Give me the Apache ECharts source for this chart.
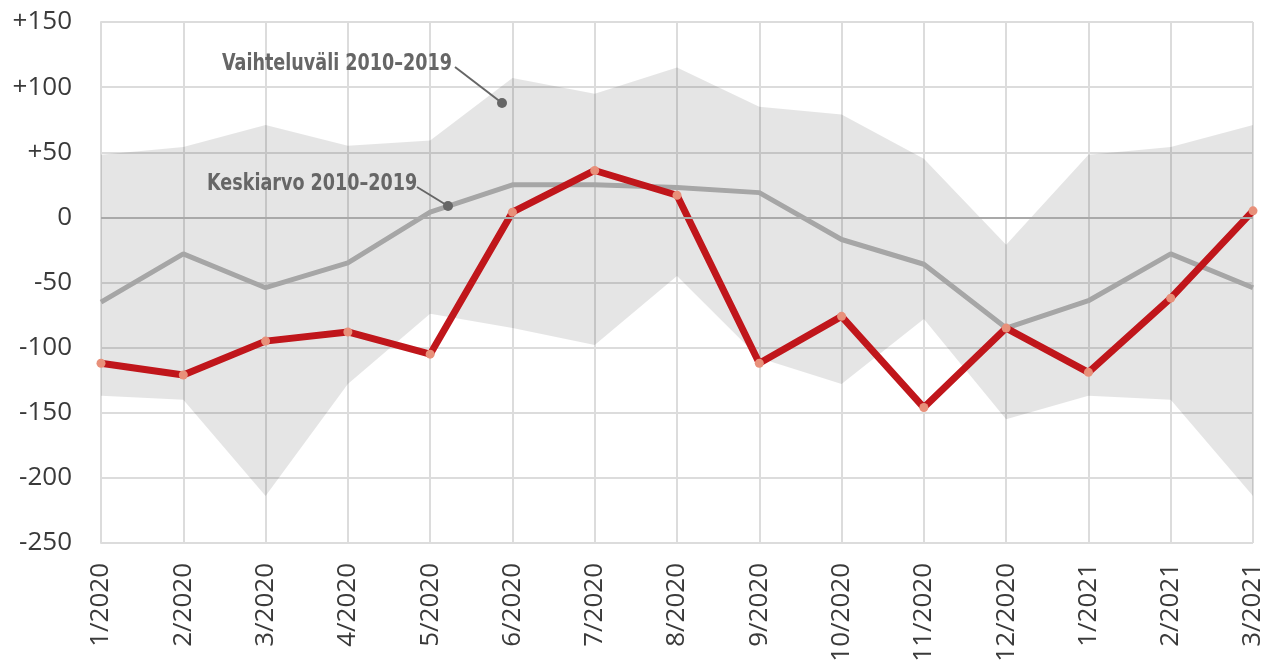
<!DOCTYPE html>
<html><head><meta charset="utf-8">
<script src="https://cdn.jsdelivr.net/npm/echarts@6/dist/echarts.min.js"></script>
<style>html,body{margin:0;padding:0;background:#fff}#c{width:1274px;height:665px}</style>
</head><body><div id="c"></div>
<script>
const categories = ['1/2020','2/2020','3/2020','4/2020','5/2020','6/2020','7/2020','8/2020','9/2020','10/2020','11/2020','12/2020','1/2021','2/2021','3/2021'];
const actual = [-112,-121,-95,-88,-105,4,36,17,-112,-76,-146,-85,-119,-62,5];
const mean2010_2019 = [-65,-28,-54,-35,4,25,25,23,19,-17,-36,-85,-64,-28,-54];
const rangeUpper = [48,54,71,55,59,107,95,115,85,79,45,-21,48,54,71];
const rangeLower = [-137,-140,-214,-128,-74,-85,-98,-45,-108,-128,-78,-155,-137,-140,-214];
const yTicks = {min:-250, max:150, interval:50};
const labelRange = 'Vaihteluväli 2010–2019';
const labelMean = 'Keskiarvo 2010–2019';

const bandDiff = rangeUpper.map((u,i)=>u-rangeLower[i]);
const chart = echarts.init(document.getElementById('c'));
const annFont = 'bold 23px "DejaVu Sans Condensed", "Liberation Sans Narrow", sans-serif';
chart.setOption({
  animation:false,
  grid:{left:101,right:21,top:22,bottom:122},
  xAxis:{type:'category',data:categories,boundaryGap:false,
    axisLine:{lineStyle:{color:'#dcdcdc',width:2}},
    axisTick:{show:false},
    splitLine:{show:true,lineStyle:{color:'#dcdcdc',width:2}},
    axisLabel:{rotate:90,interval:0,margin:20,fontSize:26,color:'#3a3a3a',fontFamily:'"Open Sans", sans-serif'}},
  yAxis:{type:'value',min:yTicks.min,max:yTicks.max,interval:yTicks.interval,
    axisLine:{show:true,lineStyle:{color:'#dcdcdc',width:2}},
    axisTick:{show:false},
    splitLine:{lineStyle:{color:'#dcdcdc',width:2}},
    axisLabel:{margin:29,fontSize:26,color:'#3a3a3a',fontFamily:'"Open Sans", sans-serif',
      formatter:v=>v>0?'+'+v:String(v)}},
  series:[
    {type:'line',data:rangeLower,stack:'band',stackStrategy:'all',symbol:'none',lineStyle:{opacity:0},silent:true},
    {type:'line',data:bandDiff,stack:'band',stackStrategy:'all',symbol:'none',lineStyle:{opacity:0},
      areaStyle:{color:'rgba(0,0,0,0.1)',opacity:1},silent:true},
    {type:'line',data:mean2010_2019,symbol:'none',lineStyle:{color:'#a6a6a6',width:5},z:3,
      markLine:{silent:true,symbol:'none',label:{show:false},lineStyle:{color:'#a9a9a9',width:2,type:'solid'},data:[{yAxis:0}]}},
    {type:'line',data:actual,symbol:'circle',symbolSize:9,showAllSymbol:true,
      itemStyle:{color:'#e8907a',borderWidth:0},lineStyle:{color:'#c0161b',width:7},z:4}
  ],
  graphic:[
    {type:'text',x:222,y:64,scaleX:0.85,style:{text:labelRange,font:annFont,fill:'#666',verticalAlign:'middle'},z:10},
    {type:'line',shape:{x1:455,y1:67,x2:502,y2:103},style:{stroke:'#666',lineWidth:2},z:10},
    {type:'circle',shape:{cx:502,cy:103,r:5},style:{fill:'#666'},z:10},
    {type:'text',x:207,y:184,scaleX:0.85,style:{text:labelMean,font:annFont,fill:'#666',verticalAlign:'middle'},z:10},
    {type:'line',shape:{x1:417,y1:187,x2:448,y2:206},style:{stroke:'#666',lineWidth:2},z:10},
    {type:'circle',shape:{cx:448,cy:206,r:5},style:{fill:'#666'},z:10}
  ]
});
</script></body></html>
